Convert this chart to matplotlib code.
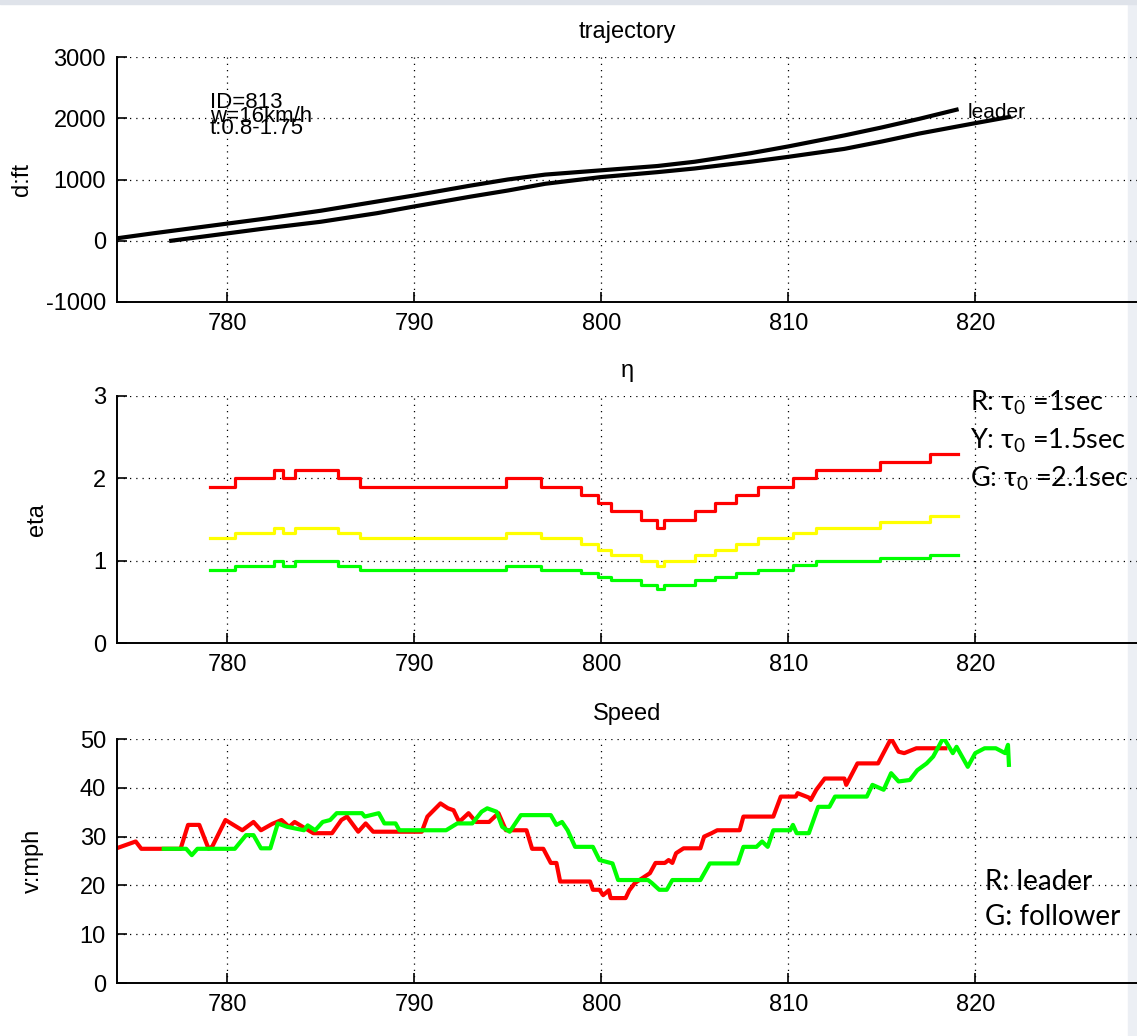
# Recreation of the trajectory / eta / speed figure
import matplotlib.pyplot as plt
from matplotlib.patches import Rectangle

# DATA
# trajectory (time in s, distance in ft)
LEAD_T = [774.1, 776, 778, 780, 782, 785, 788, 790, 793, 795, 797, 800, 803, 805, 808, 810, 813, 815, 817, 819]
LEAD_D = [40, 120, 200, 280, 360, 490, 640, 740, 900, 1000, 1080, 1150, 1220, 1290, 1430, 1540, 1720, 1850, 1990, 2140]
FOLL_T = [777.0, 778, 780, 782, 785, 788, 790, 793, 795, 797, 800, 803, 805, 808, 810, 813, 815, 817, 820, 821.8]
FOLL_D = [0, 40, 120, 200, 310, 450, 560, 720, 820, 930, 1040, 1120, 1180, 1290, 1370, 1500, 1620, 1750, 1920, 2020]

# eta step series (shared step times)
ETA_T = [779.1, 780.4, 782.5, 783.0, 783.6, 785.9, 787.1, 794.9, 796.8, 798.9, 799.8, 800.5,
         802.1, 803.0, 803.35, 805.0, 806.1, 807.2, 808.4, 810.25, 811.5, 814.9, 817.6, 819.1]
ETA_R = [1.9, 2.0, 2.1, 2.0, 2.1, 2.0, 1.9, 2.0, 1.9, 1.8, 1.7, 1.6,
         1.5, 1.4, 1.5, 1.6, 1.7, 1.8, 1.9, 2.0, 2.1, 2.2, 2.3, 2.3]
ETA_Y = [1.27, 1.33, 1.40, 1.33, 1.40, 1.33, 1.27, 1.33, 1.27, 1.20, 1.13, 1.07,
         1.00, 0.93, 1.00, 1.07, 1.13, 1.20, 1.27, 1.33, 1.40, 1.47, 1.54, 1.54]
ETA_G = [0.89, 0.94, 0.99, 0.94, 0.99, 0.94, 0.89, 0.94, 0.89, 0.85, 0.80, 0.76,
         0.71, 0.66, 0.71, 0.76, 0.80, 0.85, 0.89, 0.95, 0.99, 1.03, 1.07, 1.07]

# speed (mph)
SPD_LEAD_T = [774.0, 775.1, 775.4, 777.5, 777.9, 778.5, 779.0, 779.2, 779.9, 780.5, 780.8, 781.4, 781.8,
              782.4, 782.9, 783.3, 783.6, 784.6, 785.6, 786.1, 786.4, 787.0, 787.4, 787.8, 790.4,
              790.7, 791.4, 791.8, 792.1, 792.4, 792.9, 793.3, 794.0, 794.5, 794.9, 796.0, 796.3,
              796.9, 797.3, 797.6, 797.8, 799.4, 799.55, 799.9, 800.1, 800.4, 800.5, 801.3, 801.5,
              801.8, 802.6, 802.9, 803.4, 803.6, 803.8, 804.0, 804.4, 805.3, 805.5, 805.9, 806.2,
              807.4, 807.6, 809.2, 809.6, 810.4, 810.5, 811.1, 811.2, 811.5, 811.95, 813.0, 813.1,
              813.7, 814.8, 815.5, 815.9, 816.2, 816.85, 818.4]
SPD_LEAD_V = [27.5, 29.0, 27.5, 27.5, 32.4, 32.4, 27.5, 28.0, 33.4, 32.0, 31.3, 33.0, 31.3,
              32.6, 33.4, 32.0, 33.0, 30.7, 30.7, 33.4, 34.1, 31.0, 32.7, 31.0, 31.0,
              34.1, 36.8, 35.8, 35.4, 33.0, 34.8, 33.0, 33.0, 34.8, 31.3, 31.3, 27.5,
              27.5, 24.6, 24.6, 20.8, 20.8, 19.1, 19.1, 18.0, 19.0, 17.4, 17.4, 19.0,
              20.5, 22.5, 24.6, 24.6, 25.2, 24.6, 26.6, 27.6, 27.6, 30.0, 30.7, 31.3,
              31.3, 34.1, 34.1, 38.2, 38.2, 38.9, 38.0, 37.5, 39.6, 41.9, 41.9, 40.6,
              45.0, 45.0, 50.1, 47.4, 47.1, 48.1, 48.1]
SPD_FOLL_T = [776.6, 777.8, 778.1, 778.4, 780.4, 781.0, 781.4, 781.8, 782.3, 782.7, 783.2, 784.1,
              784.3, 784.7, 785.1, 785.5, 785.85, 787.2, 787.35, 788.1, 788.4, 789.0, 789.2, 791.7,
              792.3, 793.1, 793.6, 793.9, 794.4, 794.7, 795.1, 795.7, 797.3, 797.6, 797.9, 798.2,
              798.6, 799.55, 799.9, 800.6, 800.9, 802.5, 802.7, 803.1, 803.5, 803.8, 805.3, 805.8,
              807.3, 807.6, 808.3, 808.6, 808.9, 809.2, 810.1, 810.25, 810.45, 811.1, 811.6, 812.2,
              812.5, 814.2, 814.5, 815.1, 815.5, 815.9, 816.5, 816.9, 817.4, 817.75, 818.3, 818.8,
              819.0, 819.6, 820.0, 820.5, 821.1, 821.6, 821.75, 821.8]
SPD_FOLL_V = [27.5, 27.5, 26.2, 27.5, 27.5, 30.3, 30.3, 27.6, 27.6, 32.7, 32.0, 31.3,
              32.3, 31.3, 33.0, 33.4, 34.8, 34.8, 34.1, 34.8, 32.7, 32.7, 31.3, 31.3,
              32.7, 32.7, 35.1, 35.8, 35.1, 32.0, 31.0, 34.4, 34.4, 32.4, 33.0, 31.3,
              27.9, 27.9, 25.2, 24.5, 21.1, 21.1, 20.5, 19.1, 19.1, 21.1, 21.1, 24.5,
              24.5, 27.9, 27.9, 29.0, 27.9, 31.3, 31.3, 32.4, 30.7, 30.7, 36.1, 36.1,
              38.2, 38.2, 40.6, 39.6, 43.0, 41.3, 41.6, 43.6, 45.0, 46.4, 50.3, 47.1,
              48.4, 44.3, 47.1, 48.1, 48.1, 47.1, 48.8, 44.7]

X_TICKS = [780, 790, 800, 810, 820]
X_LIM = (774.1, 828.65)

W, H = 1137, 1036
DPI = 100
TICK_FONT = ["Liberation Sans", "DejaVu Sans"]
NOTE_FONT = ["Lato", "DejaVu Sans"]

plt.rcParams["axes.unicode_minus"] = False
plt.rcParams["mathtext.fontset"] = "custom"
plt.rcParams["mathtext.rm"] = "Lato"
plt.rcParams["mathtext.default"] = "rm"


def setup_axes(ax, ylim, yticks, title, ylabel, ylabel_x):
    ax.set_facecolor("none")
    ax.set_xlim(X_LIM)
    ax.set_ylim(ylim)
    ax.set_xticks(X_TICKS)
    ax.set_yticks(yticks)
    ax.grid(True, color="black", linestyle=(0, (1, 4)), linewidth=0.9)
    ax.tick_params(direction="in", length=7, width=1.2, labelsize=17, pad=8)
    for lab in ax.get_xticklabels() + ax.get_yticklabels():
        lab.set_family(TICK_FONT)
    ax.spines["top"].set_visible(False)
    ax.spines["right"].set_visible(False)
    for s in ("left", "bottom"):
        ax.spines[s].set_linewidth(1.4)
    ax.set_title(title, fontsize=17, family=TICK_FONT, pad=14)
    ax.set_ylabel(ylabel, fontsize=17, family=TICK_FONT)
    ax.yaxis.set_label_coords(ylabel_x, 0.5)


fig = plt.figure(figsize=(W / DPI, H / DPI), dpi=DPI, facecolor="white")

# slide background bits, kept underneath everything
fig.patches.append(Rectangle((1128 / W, 0), 9 / W, 1, transform=fig.transFigure, color="#eceff4", zorder=-5))
fig.patches.append(Rectangle((0, 1 - 4 / H), 1, 4 / H, transform=fig.transFigure, color="#dfe3ea", zorder=-5))

left = 117 / W
width = 1 - left

# trajectory
ax1 = fig.add_axes([left, 1 - 302 / H, width, 245 / H])
ax1.plot(LEAD_T, LEAD_D, color="black", linewidth=3)
ax1.plot(FOLL_T, FOLL_D, color="black", linewidth=3)
setup_axes(ax1, (-1000, 3000), [-1000, 0, 1000, 2000, 3000], "trajectory", "d:ft", -0.082)
ax1.text(210 / W, 1 - 103 / H, "ID=813", transform=fig.transFigure, fontsize=16, family=TICK_FONT, va="center")
ax1.text(210 / W, 1 - 116 / H, "w=16km/h", transform=fig.transFigure, fontsize=16, family=TICK_FONT, va="center")
ax1.text(210 / W, 1 - 128 / H, "t:0.8-1.75", transform=fig.transFigure, fontsize=16, family=TICK_FONT, va="center")
ax1.text(968 / W, 1 - 112 / H, "leader", transform=fig.transFigure, fontsize=15, family=TICK_FONT, va="center")

# eta
ax2 = fig.add_axes([left, 1 - 643 / H, width, 247 / H])
ax2.plot(ETA_T, ETA_R, color="red", linewidth=2.3, drawstyle="steps-post")
ax2.plot(ETA_T, ETA_Y, color="yellow", linewidth=2.3, drawstyle="steps-post")
ax2.plot(ETA_T, ETA_G, color="lime", linewidth=2.3, drawstyle="steps-post")
setup_axes(ax2, (0, 3), [0, 1, 2, 3], "η", "eta", -0.068)
for i, lab in enumerate(["R: τ$_0$ =1sec", "Y: τ$_0$ =1.5sec", "G: τ$_0$ =2.1sec"]):
    ax2.text(970 / W, 1 - (403 + 38 * i) / H, lab, transform=fig.transFigure, fontsize=19.5,
             family=NOTE_FONT, va="center")

# speed
ax3 = fig.add_axes([left, 1 - 983 / H, width, 244 / H])
ax3.plot(SPD_LEAD_T, SPD_LEAD_V, color="red", linewidth=3)
ax3.plot(SPD_FOLL_T, SPD_FOLL_V, color="lime", linewidth=3)
setup_axes(ax3, (0, 50), [0, 10, 20, 30, 40, 50], "Speed", "v:mph", -0.072)
ax3.text(985 / W, 1 - 882 / H, "R: leader", transform=fig.transFigure, fontsize=20, family=NOTE_FONT, va="center")
ax3.text(985 / W, 1 - 917 / H, "G: follower", transform=fig.transFigure, fontsize=20, family=NOTE_FONT, va="center")

fig.savefig("out.png", dpi=DPI)
